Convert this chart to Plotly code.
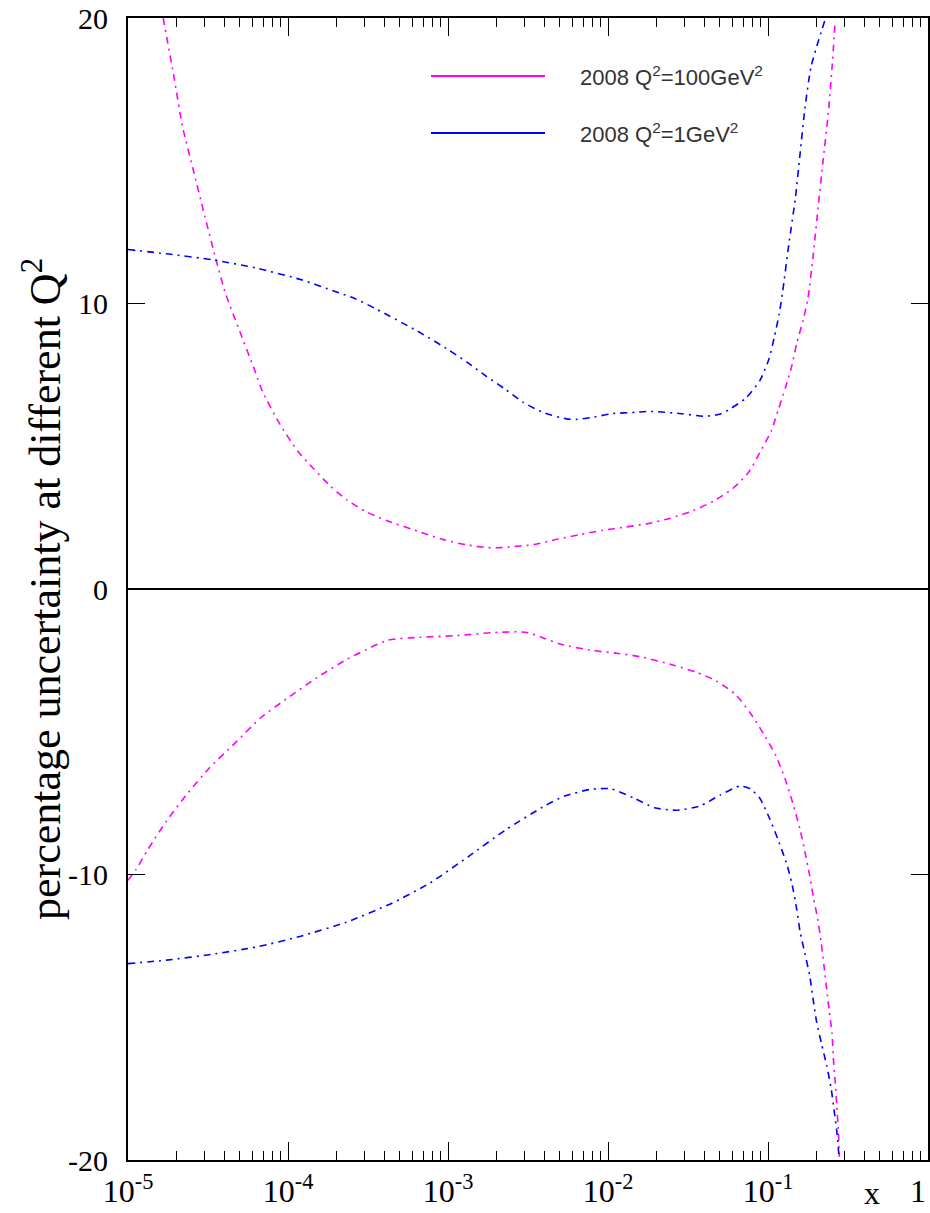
import plotly.graph_objects as go

# ---------------- data ----------------
# log10(x) and percentage uncertainty, Q^2 = 100 GeV^2, upper band
m_up_logx = [-4.78, -4.71, -4.66, -4.59, -4.52, -4.45, -4.39, -4.31, -4.21, -4.16,
             -4.06, -3.94, -3.84, -3.74, -3.63, -3.51, -3.38, -3.17, -3.03, -2.89,
             -2.75, -2.675, -2.60, -2.46, -2.32, -2.18, -2.04, -1.89, -1.75, -1.61,
             -1.47, -1.34, -1.22, -1.12, -1.05, -0.98, -0.935, -0.89, -0.85, -0.82,
             -0.78, -0.75, -0.717, -0.686, -0.655, -0.623, -0.60, -0.58]
m_up_val = [20.0, 17.85, 16.21, 14.63, 13.06, 11.54, 10.34, 9.15, 7.69, 6.93,
            5.86, 4.83, 4.21, 3.63, 3.11, 2.70, 2.39, 1.99, 1.73, 1.55,
            1.45, 1.45, 1.48, 1.56, 1.74, 1.90, 2.05, 2.17, 2.29, 2.48,
            2.74, 3.08, 3.52, 4.10, 4.79, 5.53, 6.29, 7.07, 7.84, 8.62,
            9.42, 10.2, 11.72, 13.41, 15.04, 16.68, 18.25, 19.89]

# Q^2 = 100 GeV^2, lower band
m_lo_logx = [-5.0, -4.95, -4.875, -4.76, -4.625, -4.49, -4.33, -4.17, -4.0, -3.82,
             -3.635, -3.51, -3.375, -3.17, -2.94, -2.73, -2.57, -2.5, -2.425, -2.30,
             -2.09, -1.945, -1.80, -1.59, -1.445, -1.32, -1.20, -1.11, -1.03, -0.953,
             -0.89, -0.84, -0.80, -0.77, -0.74, -0.717, -0.69, -0.668, -0.65, -0.633,
             -0.617, -0.60, -0.592, -0.58, -0.57, -0.56, -0.554]
m_lo_val = [-10.2, -9.83, -9.12, -8.13, -7.14, -6.26, -5.39, -4.51, -3.81, -3.11,
            -2.47, -2.12, -1.79, -1.69, -1.63, -1.53, -1.50, -1.53, -1.67, -1.93,
            -2.16, -2.25, -2.37, -2.67, -2.92, -3.23, -3.71, -4.35, -5.05, -5.81,
            -6.70, -7.60, -8.42, -9.19, -10.02, -10.78, -11.54, -12.37, -13.2, -14.03,
            -14.79, -15.56, -16.39, -17.27, -18.1, -18.99, -19.89]

# Q^2 = 1 GeV^2, upper band
b_up_logx = [-5.0, -4.76, -4.47, -4.19, -3.91, -3.71, -3.58, -3.45, -3.19, -3.0,
             -2.88, -2.76, -2.64, -2.53, -2.40, -2.26, -2.20, -2.11, -1.975, -1.83,
             -1.76, -1.69, -1.54, -1.40, -1.31, -1.26, -1.14, -1.05, -0.994, -0.96,
             -0.93, -0.908, -0.87, -0.83, -0.80, -0.77, -0.73, -0.64]
b_up_val = [11.89, 11.74, 11.53, 11.23, 10.82, 10.43, 10.17, 9.81, 9.03, 8.39,
            7.94, 7.45, 6.99, 6.54, 6.17, 5.96, 5.94, 6.0, 6.14, 6.19,
            6.22, 6.21, 6.14, 6.05, 6.11, 6.23, 6.68, 7.31, 8.06, 8.83,
            9.64, 10.43, 12.07, 13.64, 15.22, 16.8, 18.31, 20.0]

# Q^2 = 1 GeV^2, lower band
b_lo_logx = [-5.0, -4.76, -4.48, -4.19, -3.92, -3.635, -3.36, -3.11, -2.875, -2.635,
             -2.39, -2.27, -2.11, -1.98, -1.84, -1.71, -1.57, -1.425, -1.30, -1.175,
             -1.11, -1.05, -0.99, -0.935, -0.883, -0.85, -0.82, -0.80, -0.77, -0.74,
             -0.717, -0.696, -0.665, -0.633, -0.606, -0.5875, -0.57, -0.556]
b_lo_val = [-13.12, -13.0, -12.8, -12.53, -12.16, -11.67, -11.03, -10.29, -9.38, -8.42,
            -7.58, -7.25, -7.02, -7.0, -7.32, -7.66, -7.75, -7.60, -7.22, -6.90,
            -7.0, -7.34, -8.04, -8.81, -9.63, -10.33, -11.23, -11.99, -12.75, -13.52,
            -14.41, -15.17, -15.94, -16.70, -17.47, -18.23, -18.99, -19.89]

x_tick_vals = [1e-5, 1e-4, 1e-3, 1e-2, 1e-1, 1]
x_tick_text = ["10<sup>-5</sup>", "10<sup>-4</sup>", "10<sup>-3</sup>",
               "10<sup>-2</sup>", "10<sup>-1</sup>", ""]
x_last_label = "1"          # drawn right-aligned at the axis end
y_tick_vals = [-20, -10, 0, 10, 20]
y_tick_text = ["-20", "-10", "0", "10", "20"]

series_names = ["2008 Q<sup>2</sup>=100GeV<sup>2</sup>", "2008 Q<sup>2</sup>=1GeV<sup>2</sup>"]
series_colors = ["#ff00ff", "#0000ff"]
y_title = "percentage uncertainty at different Q<sup>2</sup>"
x_title = "x"

# ---------------- figure ----------------
DASH = "7px,5px,2px,5px"
fig = go.Figure()

def add(logx, vals, color):
    fig.add_trace(go.Scatter(
        x=[10 ** v for v in logx], y=vals, mode="lines",
        line=dict(color=color, width=1.6, dash=DASH, shape="spline", smoothing=0.6),
        showlegend=False, hoverinfo="skip"))

add(m_up_logx, m_up_val, series_colors[0])
add(m_lo_logx, m_lo_val, series_colors[0])
add(b_up_logx, b_up_val, series_colors[1])
add(b_lo_logx, b_lo_val, series_colors[1])

minor_vals = [k * 10 ** d for d in range(-5, 0) for k in range(2, 10)]

SERIF = "Liberation Serif, Times New Roman, serif"

fig.update_xaxes(
    type="log", range=[-5, 0], automargin=False,
    tickmode="array", tickvals=x_tick_vals, ticktext=x_tick_text,
    ticks="inside", ticklen=18, tickwidth=1, tickcolor="black",
    showline=True, linecolor="black", linewidth=2, mirror="ticks",
    showgrid=False, zeroline=False,
    tickfont=dict(family=SERIF, size=32, color="black"),
    ticklabeloverflow="allow", ticklabelstandoff=2,
    minor=dict(tickmode="array", tickvals=minor_vals, ticks="inside",
               ticklen=9, tickwidth=1, tickcolor="black", showgrid=False),
)
fig.update_yaxes(
    range=[-20, 20], automargin=False,
    tickmode="array", tickvals=y_tick_vals, ticktext=y_tick_text,
    ticks="inside", ticklen=17, tickwidth=1, tickcolor="black",
    showline=True, linecolor="black", linewidth=2, mirror="ticks",
    showgrid=False, zeroline=True, zerolinecolor="black", zerolinewidth=2,
    tickfont=dict(family=SERIF, size=30, color="black"),
    ticklabelstandoff=12,
)

# y-axis title as rotated text
fig.add_annotation(xref="paper", yref="paper", x=-0.1075, y=0.5,
                   xanchor="center", yanchor="middle", textangle=-90, showarrow=False,
                   text=y_title, font=dict(family=SERIF, size=44, color="black"))

# manual legend (line samples + labels, paper coordinates)
leg_y = [0.9492, 0.8993]
for name, col, yy in zip(series_names, series_colors, leg_y):
    fig.add_shape(type="line", xref="paper", yref="paper",
                  x0=0.37875, x1=0.52125, y0=yy, y1=yy,
                  line=dict(color=col, width=2))
    fig.add_annotation(xref="paper", yref="paper", x=0.5625, y=yy,
                       xanchor="left", yanchor="middle", showarrow=False,
                       text=name, font=dict(family="Liberation Sans, Arial, sans-serif",
                                            size=22, color="#333333"))

# "1" label at the right end of the x axis and the "x" axis name
fig.add_annotation(xref="paper", yref="paper", x=1.0, y=-0.0100,
                   xanchor="right", yanchor="top", showarrow=False,
                   text=x_last_label, font=dict(family=SERIF, size=32, color="black"))
fig.add_annotation(xref="paper", yref="paper", x=0.93, y=-0.0285,
                   xanchor="center", yanchor="middle", showarrow=False,
                   text=x_title, font=dict(family=SERIF, size=32, color="black"))

fig.update_layout(
    width=930, height=1213,
    margin=dict(l=128, r=2, t=18, b=53),
    paper_bgcolor="white", plot_bgcolor="white",
)

fig.write_html("out.html")
